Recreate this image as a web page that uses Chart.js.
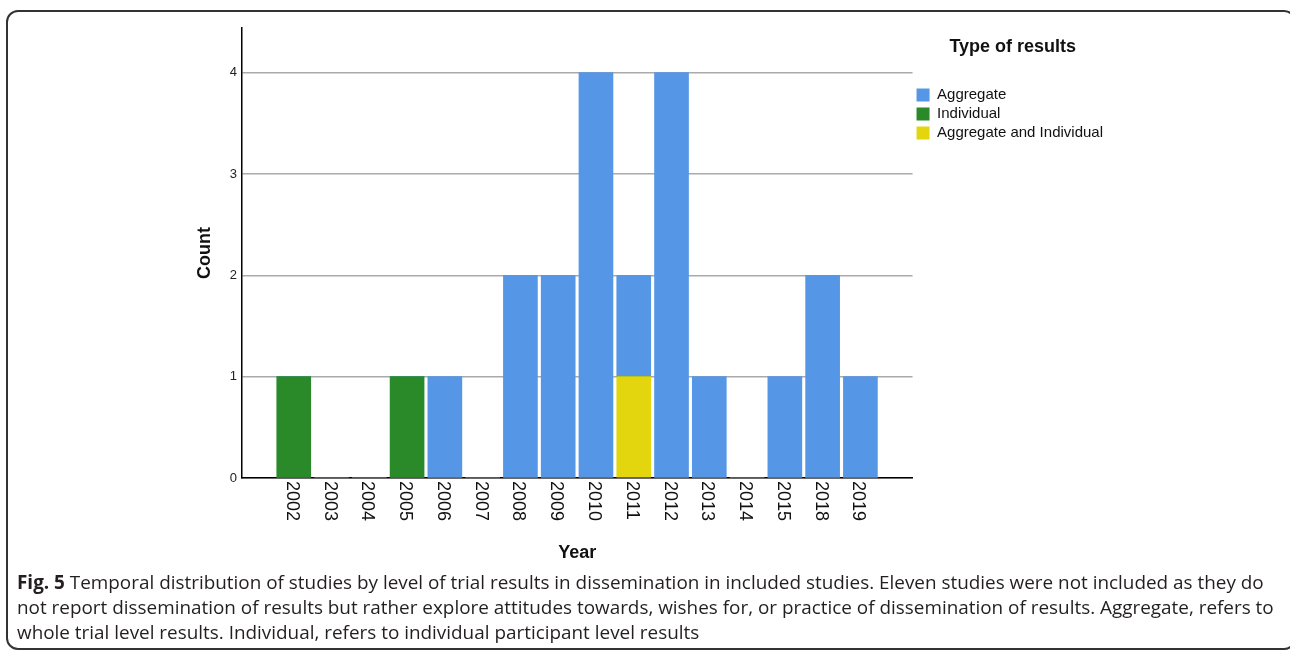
<!DOCTYPE html>
<html>
<head>
<meta charset="utf-8">
<script src="https://cdn.jsdelivr.net/npm/chart.js@4/dist/chart.umd.min.js"></script>
<style>
  html, body { margin: 0; padding: 0; background: #fff; }
  body { width: 1290px; height: 655px; position: relative; overflow: hidden; }
  #frame {
    position: absolute; left: 6px; top: 10px; width: 1290px; height: 640px;
    border: 2px solid #333; border-radius: 12px; box-sizing: border-box;
  }
  #wrap { position: absolute; left: 0; top: 0; width: 1290px; height: 570px; }
  #caption {
    position: absolute; left: 17px; top: 570px; white-space: nowrap;
    font-family: 'Open Sans', sans-serif; font-size: 18.9px; line-height: 25px; color: #231f20;
  }
</style>
</head>
<body>
<div id="frame"></div>
<div id="wrap"><canvas id="resultsChart"></canvas></div>
<div id="caption"><b>Fig. 5</b> Temporal distribution of studies by level of trial results in dissemination in included studies. Eleven studies were not included as they do<br>not report dissemination of results but rather explore attitudes towards, wishes for, or practice of dissemination of results. Aggregate, refers to<br>whole trial level results. Individual, refers to individual participant level results</div>
<script>
const years = ['2002', '2003', '2004', '2005', '2006', '2007', '2008', '2009', '2010', '2011', '2012', '2013', '2014', '2015', '2018', '2019'];
const aggregate = [0, 0, 0, 0, 1, 0, 2, 2, 4, 1, 4, 1, 0, 1, 2, 1];
const individual = [1, 0, 0, 1, 0, 0, 0, 0, 0, 0, 0, 0, 0, 0, 0, 0];
const aggregateAndIndividual = [0, 0, 0, 0, 0, 0, 0, 0, 0, 1, 0, 0, 0, 0, 0, 0];
const yTicks = [0, 1, 2, 3, 4];

const toPoints = arr => arr.map((v, i) => ({ x: i, y: v }));

// x tick labels read top-to-bottom, so draw them ourselves
const yearLabels = {
  id: 'yearLabels',
  afterDraw(chart) {
    const ctx = chart.ctx;
    const xs = chart.scales.x;
    ctx.save();
    ctx.font = '18px "Liberation Sans", Arial, sans-serif';
    ctx.fillStyle = '#111';
    ctx.textAlign = 'left';
    ctx.textBaseline = 'middle';
    years.forEach((label, i) => {
      const px = xs.getPixelForValue(i);
      ctx.save();
      ctx.translate(px - 2, xs.top + 3);
      ctx.rotate(Math.PI / 2);
      ctx.fillText(label, 0, 0);
      ctx.restore();
    });
    ctx.restore();
  }
};

const canvas = document.getElementById('resultsChart');
new Chart(canvas, {
  type: 'bar',
  data: {
    datasets: [
      { label: 'Aggregate and Individual', data: toPoints(aggregateAndIndividual), backgroundColor: '#e3d60e', borderWidth: 0 },
      { label: 'Individual', data: toPoints(individual), backgroundColor: '#2a8a2a', borderWidth: 0 },
      { label: 'Aggregate', data: toPoints(aggregate), backgroundColor: '#5596e6', borderWidth: 0 }
    ]
  },
  options: {
    responsive: true,
    maintainAspectRatio: false,
    animation: false,
    barThickness: 'flex',
    barPercentage: 0.9,
    categoryPercentage: 1,
    layout: { padding: { left: 185, top: 28, right: 177, bottom: 0 } },
    plugins: {
      tooltip: { enabled: false },
      legend: {
        position: 'right',
        align: 'start',
        title: {
          display: true,
          text: 'Type of results',
          color: '#111',
          font: { family: '"Liberation Sans", Arial, sans-serif', size: 18, weight: 'bold' },
          padding: { top: 10, bottom: 24 }
        },
        labels: {
          boxWidth: 13,
          boxHeight: 13,
          padding: 4,
          color: '#111',
          font: { family: '"Liberation Sans", Arial, sans-serif', size: 15 },
          sort: (a, b) => b.datasetIndex - a.datasetIndex
        }
      }
    },
    scales: {
      x: {
        type: 'linear',
        stacked: true,
        offset: false,
        bounds: 'data',
        min: -1.37,
        max: 16.38,
        grid: { display: false, offset: false },
        border: { color: '#000', width: 1.5 },
        ticks: { display: false, stepSize: 1, includeBounds: false },
        title: {
          display: true,
          text: 'Year',
          color: '#111',
          font: { family: '"Liberation Sans", Arial, sans-serif', size: 18, weight: 'bold' },
          padding: { top: 0, bottom: 6 }
        },
        afterFit(scale) { scale.height = 92; }
      },
      y: {
        stacked: true,
        bounds: 'data',
        min: 0,
        max: 4.44,
        grid: { color: '#aaaaaa', lineWidth: 1.5, drawTicks: false },
        border: { color: '#000', width: 1.5 },
        afterBuildTicks(scale) { scale.ticks = yTicks.map(v => ({ value: v })); },
        ticks: {
          stepSize: 1,
          includeBounds: false,
          padding: 5,
          color: '#222',
          font: { family: '"Liberation Sans", Arial, sans-serif', size: 13 }
        },
        title: {
          display: true,
          text: 'Count',
          color: '#111',
          font: { family: '"Liberation Sans", Arial, sans-serif', size: 18, weight: 'bold' },
          padding: { top: 9, bottom: 4 }
        },
        afterFit(scale) { scale.width = 57; }
      }
    }
  },
  plugins: [yearLabels]
});
</script>
</body>
</html>
